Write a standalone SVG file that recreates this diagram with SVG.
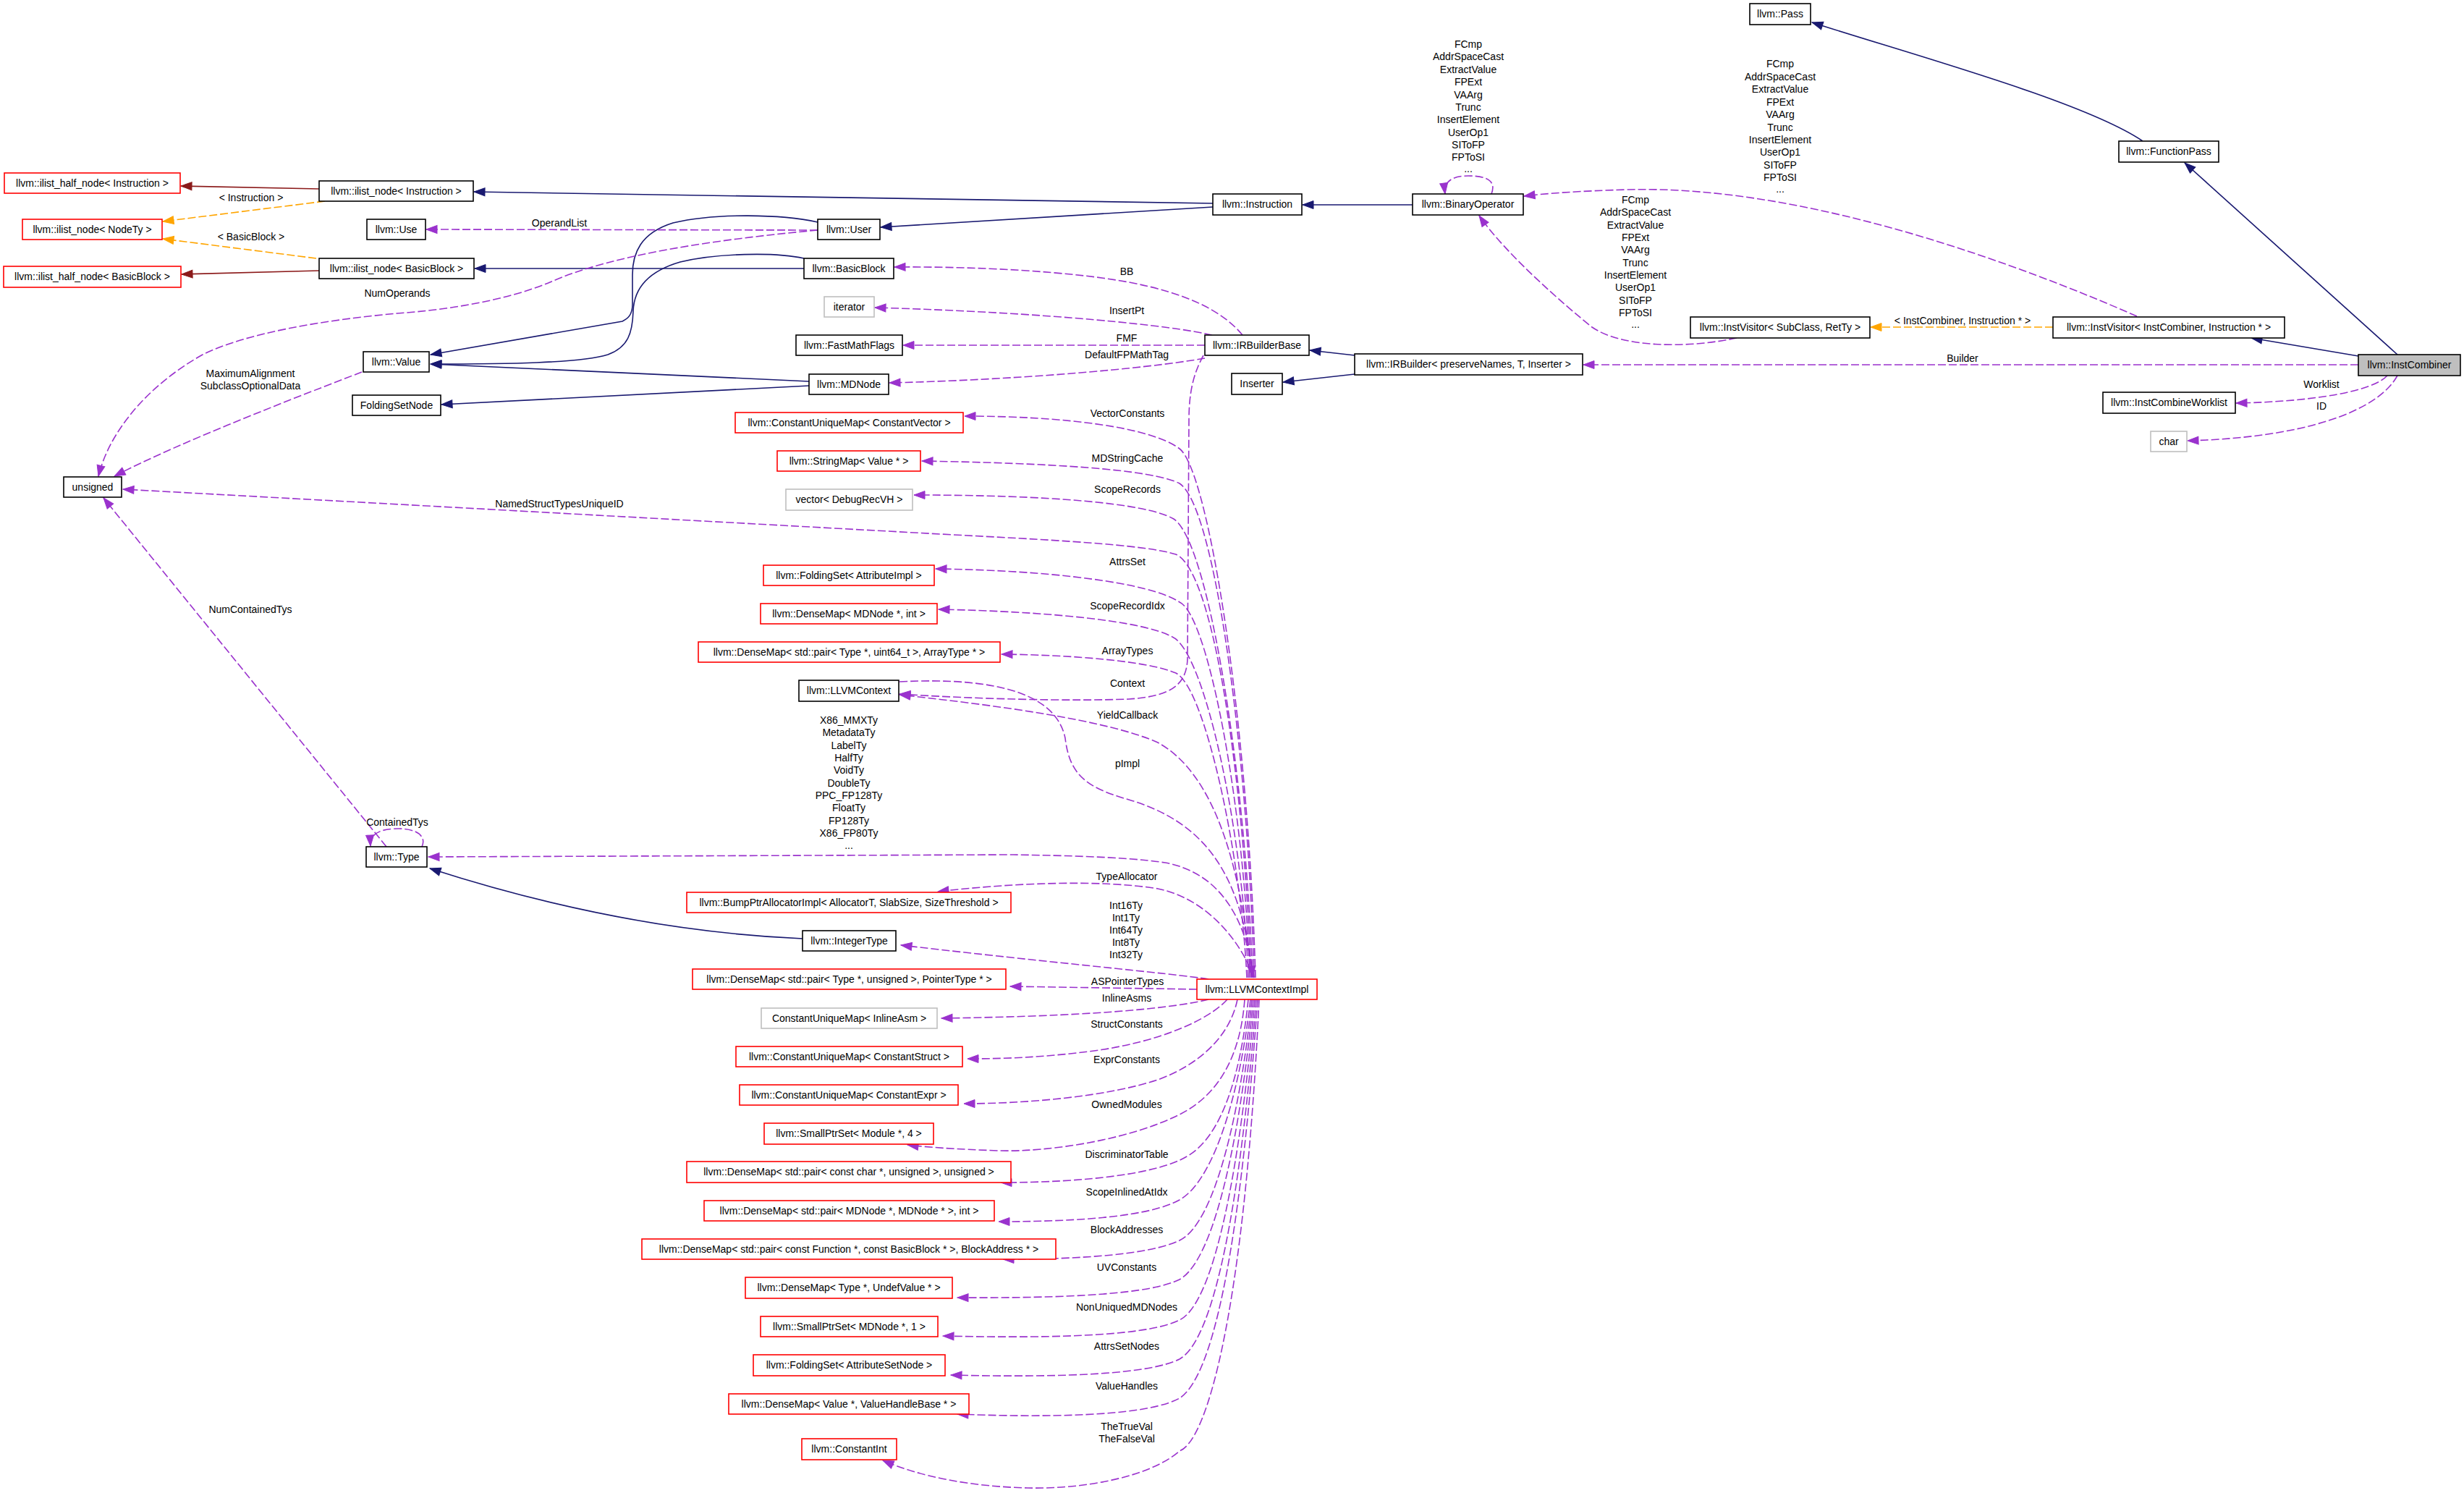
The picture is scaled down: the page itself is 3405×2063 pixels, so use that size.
<svg xmlns="http://www.w3.org/2000/svg" width="3405" height="2063" viewBox="0 0 3405 2063">
<style>
text{font-family:"Liberation Sans",Arial,sans-serif;font-size:14px;fill:#000}
.n rect{fill:#fff;stroke:#000;stroke-width:1.6}
.n.red rect{stroke:#f00}
.n.gray rect{stroke:#bfbfbf}
.n.main rect{fill:#bfbfbf}
.n text,.lbl{text-anchor:middle}
.e path{fill:none;stroke-width:1.6}
.e .inh{stroke:#191970;marker-end:url(#aN)}
.e .use{stroke:#9a32cd;stroke-dasharray:11,4;marker-end:url(#aP)}
.e .tpl{stroke:#ffa500;stroke-dasharray:11,4;marker-end:url(#aO)}
.e .pri{stroke:#8b1a1a;marker-end:url(#aR)}
</style>
<defs>
<marker id="aN" markerUnits="userSpaceOnUse" markerWidth="18" markerHeight="14" refX="15" refY="6" orient="auto" overflow="visible"><path d="M0,0.5 L15,6 L0,11.5 z" fill="#191970" stroke="#191970"/></marker>
<marker id="aP" markerUnits="userSpaceOnUse" markerWidth="18" markerHeight="14" refX="15" refY="6" orient="auto" overflow="visible"><path d="M0,0.5 L15,6 L0,11.5 z" fill="#9a32cd" stroke="#9a32cd"/></marker>
<marker id="aO" markerUnits="userSpaceOnUse" markerWidth="18" markerHeight="14" refX="15" refY="6" orient="auto" overflow="visible"><path d="M0,0.5 L15,6 L0,11.5 z" fill="#ffa500" stroke="#ffa500"/></marker>
<marker id="aR" markerUnits="userSpaceOnUse" markerWidth="18" markerHeight="14" refX="15" refY="6" orient="auto" overflow="visible"><path d="M0,0.5 L15,6 L0,11.5 z" fill="#8b1a1a" stroke="#8b1a1a"/></marker>
</defs>
<rect x="0" y="0" width="3405" height="2063" fill="#fff"/>

<g id="edges" class="e">
<path class="inh" d="M2961,195 C2880,140 2640,75 2504,31"/>
<path class="inh" d="M3313,490 L3019,225"/>
<path class="inh" d="M3259,492 L3111,467"/>
<path class="inh" d="M1952,283 L1800,283"/>
<path class="inh" d="M1676,286 L1217,314"/>
<path class="inh" d="M1676,281 L655,265"/>
<path class="inh" d="M1130,307 C1080,296 990,294 930,308 C885,322 874,350 874,380 L874,420 C874,435 868,440 860,444 L595,490"/>
<path class="inh" d="M1111,357 C1070,348 990,350 940,362 C895,375 876,400 875,430 C874,460 868,480 840,490 C800,502 700,503 595,503"/>
<path class="inh" d="M1118,527 L595,503"/>
<path class="inh" d="M1118,533 L610,559"/>
<path class="inh" d="M1111,371 L656,371"/>
<path class="inh" d="M1872,491 L1810,484"/>
<path class="inh" d="M1872,517 L1773,528"/>
<path class="inh" d="M1109,1297 C950,1290 780,1260 594,1200"/>
<path class="pri" d="M441,261 L250,257"/>
<path class="pri" d="M441,374 L251,379"/>
<path class="tpl" d="M449,278 L225,306"/>
<path class="tpl" d="M437,357 L225,330"/>
<path class="tpl" d="M2837,452 L2585,452"/>
<path class="use" d="M1130,318 L589,317"/>
<path class="use" d="M1130,318 C1000,330 850,350 760,390 C700,415 620,428 549,433 C450,442 340,460 280,490 C200,535 150,600 136,658"/>
<path class="use" d="M500,514 C420,545 250,610 158,658"/>
<path class="use" d="M534,1170 L143,688"/>
<path class="use" d="M583,1170 C590,1155 575,1145 551,1145 C525,1145 511,1152 512,1169"/>
<path class="use" d="M2061,268 C2068,250 2055,243 2029,243 C2005,243 1995,252 1997,268"/>
<path class="use" d="M2953,437 C2800,370 2500,255 2250,262 C2180,264 2140,267 2106,271"/>
<path class="use" d="M2400,467 C2330,482 2240,480 2200,452 C2160,420 2080,350 2044,298"/>
<path class="use" d="M3259,504 L2188,504"/>
<path class="use" d="M3299,519 C3280,540 3200,555 3090,557"/>
<path class="use" d="M3313,519 C3285,570 3180,605 3023,609"/>
<path class="use" d="M1717,463 C1690,430 1640,405 1560,390 C1480,375 1350,368 1236,369"/>
<path class="use" d="M1675,463 C1620,450 1450,432 1209,425"/>
<path class="use" d="M1665,477 L1248,477"/>
<path class="use" d="M1665,495 C1580,510 1400,525 1229,529"/>
<path class="use" d="M1663,491 C1650,515 1643,540 1643,580 L1641,910 C1640,945 1620,962 1560,966 C1480,969 1350,966 1243,959"/>
<path class="use" d="M1730,1351 C1715,1200 1680,1070 1600,1026 C1530,995 1380,975 1243,960"/>
<path class="use" d="M1243,942 C1380,935 1460,960 1472,1020 C1478,1070 1500,1088 1560,1105 C1660,1135 1715,1200 1731,1350"/>
<path class="use" d="M1735,1351 C1725,1000 1670,650 1630,620 C1590,590 1470,575 1333,575"/>
<path class="use" d="M1733,1351 C1725,1050 1680,700 1630,668 C1590,648 1450,640 1274,637"/>
<path class="use" d="M1731,1351 C1722,1080 1670,740 1620,716 C1580,695 1450,684 1263,684"/>
<path class="use" d="M1729,1351 C1720,1100 1680,790 1625,766 C1580,752 1450,746 1300,738 L170,676"/>
<path class="use" d="M1727,1351 C1720,1120 1670,850 1630,832 C1590,805 1450,788 1293,786"/>
<path class="use" d="M1725,1351 C1718,1150 1665,900 1620,880 C1580,858 1450,845 1297,842"/>
<path class="use" d="M1723,1351 C1715,1180 1665,950 1625,930 C1585,913 1480,905 1384,904"/>
<path class="use" d="M1733,1351 C1720,1260 1680,1205 1610,1192 C1550,1183 1450,1182 1400,1181 L592,1184"/>
<path class="use" d="M1733,1351 C1710,1290 1660,1240 1600,1228 C1520,1215 1400,1220 1296,1232"/>
<path class="use" d="M1670,1353 C1620,1345 1450,1330 1245,1306"/>
<path class="use" d="M1654,1367 L1396,1363"/>
<path class="use" d="M1670,1381 C1600,1398 1450,1405 1301,1407"/>
<path class="use" d="M1696,1381 C1670,1410 1600,1440 1512,1452 C1450,1460 1400,1463 1337,1463"/>
<path class="use" d="M1710,1381 C1700,1430 1660,1470 1600,1492 C1530,1515 1420,1525 1332,1525"/>
<path class="use" d="M1720,1381 C1715,1450 1690,1510 1630,1540 C1560,1575 1450,1592 1380,1590 C1320,1588 1280,1585 1254,1582"/>
<path class="use" d="M1725,1381 C1715,1480 1690,1570 1640,1598 C1600,1622 1500,1634 1383,1634"/>
<path class="use" d="M1728,1381 C1715,1500 1680,1630 1630,1658 C1590,1680 1500,1688 1380,1688"/>
<path class="use" d="M1730,1381 C1715,1530 1680,1690 1630,1714 C1590,1733 1500,1740 1386,1740"/>
<path class="use" d="M1732,1381 C1715,1560 1680,1740 1630,1768 C1590,1788 1480,1794 1323,1793"/>
<path class="use" d="M1734,1381 C1715,1600 1680,1800 1630,1824 C1590,1844 1480,1850 1303,1846"/>
<path class="use" d="M1736,1381 C1715,1650 1680,1850 1630,1878 C1590,1898 1480,1904 1314,1900"/>
<path class="use" d="M1738,1381 C1715,1700 1680,1900 1630,1932 C1590,1954 1480,1960 1323,1954"/>
<path class="use" d="M1740,1381 C1720,1800 1670,1990 1630,2005 C1590,2040 1500,2058 1420,2056 C1340,2054 1270,2040 1220,2018"/>
</g>

<g id="edge-labels">
<text class="lbl" x="347" y="278">&lt; Instruction &gt;</text>
<text class="lbl" x="347" y="332">&lt; BasicBlock &gt;</text>
<text class="lbl" x="773" y="313">OperandList</text>
<text class="lbl" x="549" y="410">NumOperands</text>
<text class="lbl" x="346" y="521">MaximumAlignment</text>
<text class="lbl" x="346" y="538">SubclassOptionalData</text>
<text class="lbl" x="773" y="701">NamedStructTypesUniqueID</text>
<text class="lbl" x="346" y="847">NumContainedTys</text>
<text class="lbl" x="549" y="1141">ContainedTys</text>
<text class="lbl" x="2712" y="448">&lt; InstCombiner, Instruction * &gt;</text>
<text class="lbl" x="2712" y="500">Builder</text>
<text class="lbl" x="3208" y="536">Worklist</text>
<text class="lbl" x="3208" y="566">ID</text>
<text class="lbl" x="1557" y="380">BB</text>
<text class="lbl" x="1557" y="434">InsertPt</text>
<text class="lbl" x="1557" y="472">FMF</text>
<text class="lbl" x="1557" y="495">DefaultFPMathTag</text>
<text class="lbl" x="1558" y="576">VectorConstants</text>
<text class="lbl" x="1558" y="638">MDStringCache</text>
<text class="lbl" x="1558" y="681">ScopeRecords</text>
<text class="lbl" x="1558" y="781">AttrsSet</text>
<text class="lbl" x="1558" y="842">ScopeRecordIdx</text>
<text class="lbl" x="1558" y="904">ArrayTypes</text>
<text class="lbl" x="1558" y="949">Context</text>
<text class="lbl" x="1558" y="993">YieldCallback</text>
<text class="lbl" x="1558" y="1060">pImpl</text>
<text class="lbl" x="1557" y="1216">TypeAllocator</text>
<text class="lbl" x="1558" y="1361">ASPointerTypes</text>
<text class="lbl" x="1557" y="1384">InlineAsms</text>
<text class="lbl" x="1557" y="1420">StructConstants</text>
<text class="lbl" x="1557" y="1469">ExprConstants</text>
<text class="lbl" x="1557" y="1531">OwnedModules</text>
<text class="lbl" x="1557" y="1600">DiscriminatorTable</text>
<text class="lbl" x="1557" y="1652">ScopeInlinedAtIdx</text>
<text class="lbl" x="1557" y="1704">BlockAddresses</text>
<text class="lbl" x="1557" y="1756">UVConstants</text>
<text class="lbl" x="1557" y="1811">NonUniquedMDNodes</text>
<text class="lbl" x="1557" y="1865">AttrsSetNodes</text>
<text class="lbl" x="1557" y="1920">ValueHandles</text>
<text class="lbl" x="1557" y="1976">TheTrueVal</text>
<text class="lbl" x="1557" y="1993">TheFalseVal</text>
<g class="lbl">
<text class="lbl" x="1173" y="1000">X86_MMXTy</text>
<text class="lbl" x="1173" y="1017">MetadataTy</text>
<text class="lbl" x="1173" y="1035">LabelTy</text>
<text class="lbl" x="1173" y="1052">HalfTy</text>
<text class="lbl" x="1173" y="1069">VoidTy</text>
<text class="lbl" x="1173" y="1087">DoubleTy</text>
<text class="lbl" x="1173" y="1104">PPC_FP128Ty</text>
<text class="lbl" x="1173" y="1121">FloatTy</text>
<text class="lbl" x="1173" y="1139">FP128Ty</text>
<text class="lbl" x="1173" y="1156">X86_FP80Ty</text>
<text class="lbl" x="1173" y="1173">...</text>
</g>
<text class="lbl" x="1556" y="1256">Int16Ty</text>
<text class="lbl" x="1556" y="1273">Int1Ty</text>
<text class="lbl" x="1556" y="1290">Int64Ty</text>
<text class="lbl" x="1556" y="1307">Int8Ty</text>
<text class="lbl" x="1556" y="1324">Int32Ty</text>
<text class="lbl" x="2029" y="66">FCmp</text>
<text class="lbl" x="2029" y="83">AddrSpaceCast</text>
<text class="lbl" x="2029" y="101">ExtractValue</text>
<text class="lbl" x="2029" y="118">FPExt</text>
<text class="lbl" x="2029" y="136">VAArg</text>
<text class="lbl" x="2029" y="153">Trunc</text>
<text class="lbl" x="2029" y="170">InsertElement</text>
<text class="lbl" x="2029" y="188">UserOp1</text>
<text class="lbl" x="2029" y="205">SIToFP</text>
<text class="lbl" x="2029" y="222">FPToSI</text>
<text class="lbl" x="2029" y="238">...</text>
<text class="lbl" x="2460" y="93">FCmp</text>
<text class="lbl" x="2460" y="111">AddrSpaceCast</text>
<text class="lbl" x="2460" y="128">ExtractValue</text>
<text class="lbl" x="2460" y="146">FPExt</text>
<text class="lbl" x="2460" y="163">VAArg</text>
<text class="lbl" x="2460" y="181">Trunc</text>
<text class="lbl" x="2460" y="198">InsertElement</text>
<text class="lbl" x="2460" y="215">UserOp1</text>
<text class="lbl" x="2460" y="233">SIToFP</text>
<text class="lbl" x="2460" y="250">FPToSI</text>
<text class="lbl" x="2460" y="266">...</text>
<text class="lbl" x="2260" y="281">FCmp</text>
<text class="lbl" x="2260" y="298">AddrSpaceCast</text>
<text class="lbl" x="2260" y="316">ExtractValue</text>
<text class="lbl" x="2260" y="333">FPExt</text>
<text class="lbl" x="2260" y="350">VAArg</text>
<text class="lbl" x="2260" y="368">Trunc</text>
<text class="lbl" x="2260" y="385">InsertElement</text>
<text class="lbl" x="2260" y="402">UserOp1</text>
<text class="lbl" x="2260" y="420">SIToFP</text>
<text class="lbl" x="2260" y="437">FPToSI</text>
<text class="lbl" x="2260" y="453">...</text>
</g>

<g id="n-Pass" class="n"><rect x="2418" y="5" width="84" height="29"/><text x="2460" y="24">llvm::Pass</text></g>
<g id="n-FunctionPass" class="n"><rect x="2928" y="195" width="138" height="29"/><text x="2997" y="214">llvm::FunctionPass</text></g>
<g id="n-InstCombiner" class="n main"><rect x="3259" y="490" width="141" height="29"/><text x="3329.5" y="509">llvm::InstCombiner</text></g>
<g id="n-InstVisitorIC" class="n"><rect x="2837" y="438" width="320" height="29"/><text x="2997" y="457">llvm::InstVisitor&lt; InstCombiner, Instruction * &gt;</text></g>
<g id="n-InstVisitorSR" class="n"><rect x="2336" y="438" width="248" height="29"/><text x="2460" y="457">llvm::InstVisitor&lt; SubClass, RetTy &gt;</text></g>
<g id="n-InstCombineWorklist" class="n"><rect x="2906" y="542" width="183" height="29"/><text x="2997.5" y="561">llvm::InstCombineWorklist</text></g>
<g id="n-char" class="n gray"><rect x="2972" y="596" width="50" height="28"/><text x="2997" y="615">char</text></g>
<g id="n-BinaryOperator" class="n"><rect x="1952" y="268" width="153" height="29"/><text x="2028.5" y="287">llvm::BinaryOperator</text></g>
<g id="n-Instruction" class="n"><rect x="1676" y="268" width="123" height="29"/><text x="1737.5" y="287">llvm::Instruction</text></g>
<g id="n-IRBuilder" class="n"><rect x="1872" y="489" width="315" height="29"/><text x="2029.5" y="508">llvm::IRBuilder&lt; preserveNames, T, Inserter &gt;</text></g>
<g id="n-IRBuilderBase" class="n"><rect x="1665" y="463" width="144" height="28"/><text x="1737" y="482">llvm::IRBuilderBase</text></g>
<g id="n-Inserter" class="n"><rect x="1702" y="516" width="70" height="29"/><text x="1737" y="535">Inserter</text></g>
<g id="n-User" class="n"><rect x="1130" y="303" width="86" height="28"/><text x="1173" y="322">llvm::User</text></g>
<g id="n-BasicBlock" class="n"><rect x="1111" y="357" width="124" height="28"/><text x="1173" y="376">llvm::BasicBlock</text></g>
<g id="n-iterator" class="n gray"><rect x="1139" y="410" width="69" height="28"/><text x="1173.5" y="429">iterator</text></g>
<g id="n-FastMathFlags" class="n"><rect x="1100" y="463" width="147" height="28"/><text x="1173.5" y="482">llvm::FastMathFlags</text></g>
<g id="n-MDNode" class="n"><rect x="1118" y="517" width="110" height="28"/><text x="1173" y="536">llvm::MDNode</text></g>
<g id="n-ilist_node_Instruction" class="n"><rect x="441" y="250" width="213" height="28"/><text x="547.5" y="269">llvm::ilist_node&lt; Instruction &gt;</text></g>
<g id="n-ilist_node_BasicBlock" class="n"><rect x="441" y="357" width="214" height="28"/><text x="548" y="376">llvm::ilist_node&lt; BasicBlock &gt;</text></g>
<g id="n-ilist_half_node_Instruction" class="n red"><rect x="6" y="239" width="243" height="28"/><text x="127.5" y="258">llvm::ilist_half_node&lt; Instruction &gt;</text></g>
<g id="n-ilist_node_NodeTy" class="n red"><rect x="31" y="303" width="193" height="28"/><text x="127.5" y="322">llvm::ilist_node&lt; NodeTy &gt;</text></g>
<g id="n-ilist_half_node_BasicBlock" class="n red"><rect x="5" y="368" width="245" height="29"/><text x="127.5" y="387">llvm::ilist_half_node&lt; BasicBlock &gt;</text></g>
<g id="n-Use" class="n"><rect x="507" y="303" width="81" height="28"/><text x="547.5" y="322">llvm::Use</text></g>
<g id="n-Value" class="n"><rect x="502" y="486" width="91" height="28"/><text x="547.5" y="505">llvm::Value</text></g>
<g id="n-FoldingSetNode" class="n"><rect x="487" y="546" width="122" height="28"/><text x="548" y="565">FoldingSetNode</text></g>
<g id="n-unsigned" class="n"><rect x="88" y="659" width="80" height="28"/><text x="128" y="678">unsigned</text></g>
<g id="n-Type" class="n"><rect x="506" y="1170" width="84" height="28"/><text x="548" y="1189">llvm::Type</text></g>
<g id="n-CUM_ConstantVector" class="n red"><rect x="1016" y="570" width="315" height="28"/><text x="1173.5" y="589">llvm::ConstantUniqueMap&lt; ConstantVector &gt;</text></g>
<g id="n-StringMap" class="n red"><rect x="1074" y="623" width="198" height="28"/><text x="1173" y="642">llvm::StringMap&lt; Value * &gt;</text></g>
<g id="n-vector_DebugRecVH" class="n gray"><rect x="1086" y="676" width="175" height="29"/><text x="1173.5" y="695">vector&lt; DebugRecVH &gt;</text></g>
<g id="n-FoldingSet_AttributeImpl" class="n red"><rect x="1055" y="781" width="236" height="28"/><text x="1173" y="800">llvm::FoldingSet&lt; AttributeImpl &gt;</text></g>
<g id="n-DenseMap_MDNode_int" class="n red"><rect x="1051" y="834" width="244" height="28"/><text x="1173" y="853">llvm::DenseMap&lt; MDNode *, int &gt;</text></g>
<g id="n-DenseMap_ArrayType" class="n red"><rect x="965" y="887" width="417" height="28"/><text x="1173.5" y="906">llvm::DenseMap&lt; std::pair&lt; Type *, uint64_t &gt;, ArrayType * &gt;</text></g>
<g id="n-LLVMContext" class="n"><rect x="1104" y="940" width="138" height="29"/><text x="1173" y="959">llvm::LLVMContext</text></g>
<g id="n-BumpPtrAllocatorImpl" class="n red"><rect x="949" y="1233" width="448" height="28"/><text x="1173" y="1252">llvm::BumpPtrAllocatorImpl&lt; AllocatorT, SlabSize, SizeThreshold &gt;</text></g>
<g id="n-IntegerType" class="n"><rect x="1109" y="1286" width="129" height="28"/><text x="1173.5" y="1305">llvm::IntegerType</text></g>
<g id="n-DenseMap_PointerType" class="n red"><rect x="957" y="1339" width="433" height="28"/><text x="1173.5" y="1358">llvm::DenseMap&lt; std::pair&lt; Type *, unsigned &gt;, PointerType * &gt;</text></g>
<g id="n-LLVMContextImpl" class="n red"><rect x="1654" y="1353" width="166" height="28"/><text x="1737" y="1372">llvm::LLVMContextImpl</text></g>
<g id="n-CUM_InlineAsm" class="n gray"><rect x="1052" y="1393" width="243" height="28"/><text x="1173.5" y="1412">ConstantUniqueMap&lt; InlineAsm &gt;</text></g>
<g id="n-CUM_ConstantStruct" class="n red"><rect x="1017" y="1446" width="313" height="28"/><text x="1173.5" y="1465">llvm::ConstantUniqueMap&lt; ConstantStruct &gt;</text></g>
<g id="n-CUM_ConstantExpr" class="n red"><rect x="1022" y="1499" width="302" height="28"/><text x="1173" y="1518">llvm::ConstantUniqueMap&lt; ConstantExpr &gt;</text></g>
<g id="n-SmallPtrSet_Module" class="n red"><rect x="1056" y="1552" width="234" height="29"/><text x="1173" y="1571">llvm::SmallPtrSet&lt; Module *, 4 &gt;</text></g>
<g id="n-DenseMap_constchar" class="n red"><rect x="949" y="1605" width="448" height="29"/><text x="1173" y="1624">llvm::DenseMap&lt; std::pair&lt; const char *, unsigned &gt;, unsigned &gt;</text></g>
<g id="n-DenseMap_MDNodePair" class="n red"><rect x="973" y="1659" width="401" height="28"/><text x="1173.5" y="1678">llvm::DenseMap&lt; std::pair&lt; MDNode *, MDNode * &gt;, int &gt;</text></g>
<g id="n-DenseMap_BlockAddress" class="n red"><rect x="887" y="1712" width="572" height="28"/><text x="1173" y="1731">llvm::DenseMap&lt; std::pair&lt; const Function *, const BasicBlock * &gt;, BlockAddress * &gt;</text></g>
<g id="n-DenseMap_UndefValue" class="n red"><rect x="1030" y="1765" width="286" height="29"/><text x="1173" y="1784">llvm::DenseMap&lt; Type *, UndefValue * &gt;</text></g>
<g id="n-SmallPtrSet_MDNode" class="n red"><rect x="1051" y="1819" width="245" height="28"/><text x="1173.5" y="1838">llvm::SmallPtrSet&lt; MDNode *, 1 &gt;</text></g>
<g id="n-FoldingSet_AttributeSetNode" class="n red"><rect x="1041" y="1872" width="265" height="29"/><text x="1173.5" y="1891">llvm::FoldingSet&lt; AttributeSetNode &gt;</text></g>
<g id="n-DenseMap_ValueHandle" class="n red"><rect x="1007" y="1926" width="332" height="28"/><text x="1173" y="1945">llvm::DenseMap&lt; Value *, ValueHandleBase * &gt;</text></g>
<g id="n-ConstantInt" class="n red"><rect x="1108" y="1988" width="131" height="29"/><text x="1173.5" y="2007">llvm::ConstantInt</text></g>
</svg>
